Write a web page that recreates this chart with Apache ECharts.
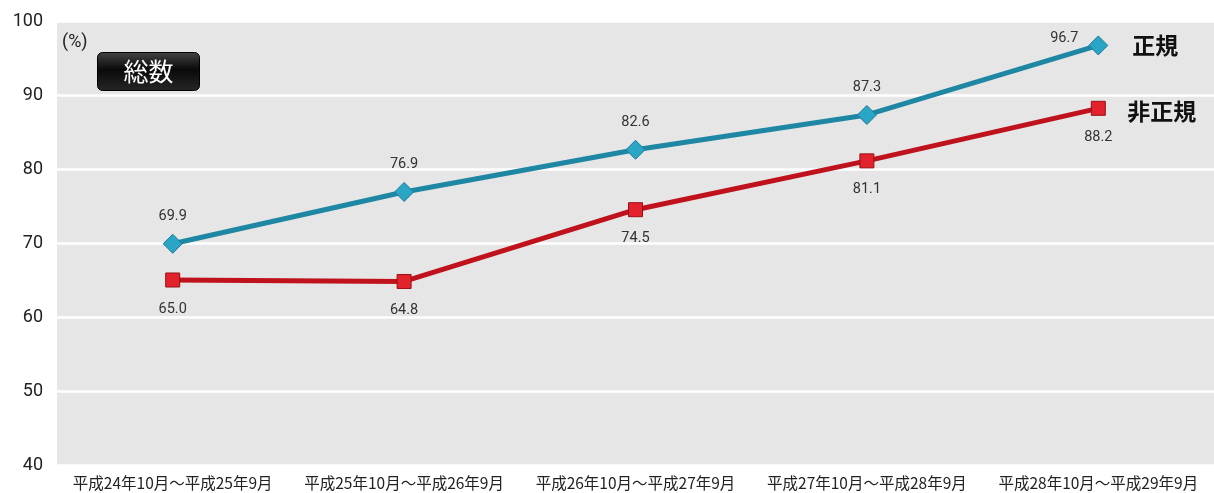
<!DOCTYPE html>
<html><head><meta charset="utf-8">
<script src="https://cdn.jsdelivr.net/npm/echarts@6/dist/echarts.min.js"></script>
<style>html,body{margin:0;padding:0;background:#fff}#c{width:1214px;height:493px}</style>
</head><body><div id="c"></div>
<script>
const categories = ['平成24年10月～平成25年9月','平成25年10月～平成26年9月','平成26年10月～平成27年9月','平成27年10月～平成28年9月','平成28年10月～平成29年9月'];
const regular = [69.9, 76.9, 82.6, 87.3, 96.7];
const nonRegular = [65.0, 64.8, 74.5, 81.1, 88.2];
const seriesNames = ['正規', '非正規'];
const yTicks = {min: 40, max: 100, interval: 10};
const unitLabel = '(%)';
const badgeLabel = '総数';

const chart = echarts.init(document.getElementById('c'));
const jp = '"Noto Sans CJK JP", "Noto Sans", sans-serif';
const regData = regular.map((v, i) => i === regular.length - 1
  ? {value: v, label: {offset: [-34, 20]}} : v);
chart.setOption({
  animation: false,
  backgroundColor: '#fff',
  grid: {left: 57, right: 0, top: 21, bottom: 28, backgroundColor: '#e6e6e6', show: true, borderWidth: 0},
  xAxis: {
    type: 'category', data: categories, boundaryGap: true,
    axisLine: {show: false}, axisTick: {show: false}, splitLine: {show: false},
    axisLabel: {color: '#222', fontSize: 15.5, fontFamily: jp, margin: 10, interval: 0, hideOverlap: false}
  },
  yAxis: {
    type: 'value', min: yTicks.min, max: yTicks.max, interval: yTicks.interval,
    axisLine: {show: false}, axisTick: {show: false},
    splitLine: {show: true, lineStyle: {color: '#ffffff', width: 2.5}},
    axisLabel: {color: '#222', fontSize: 18, fontFamily: 'Roboto, sans-serif', margin: 14}
  },
  series: [
    {
      name: seriesNames[0], type: 'line', data: regData,
      symbol: 'diamond', symbolSize: 19,
      lineStyle: {color: '#1e87a3', width: 5},
      itemStyle: {color: '#2ba5c6', borderColor: '#1a7a95', borderWidth: 1},
      label: {show: true, position: 'top', distance: 10, color: '#333', fontSize: 14.5, fontFamily: 'Roboto, sans-serif', formatter: p => Number(p.value).toFixed(1)},
      endLabel: {show: true, formatter: seriesNames[0], color: '#111', fontSize: 23, fontWeight: 'bold', fontFamily: jp, distance: 34, offset: [0, 0]},
      z: 3
    },
    {
      name: seriesNames[1], type: 'line', data: nonRegular,
      symbol: 'rect', symbolSize: 14,
      lineStyle: {color: '#c0121d', width: 5},
      itemStyle: {color: '#e2222c', borderColor: '#9a0f16', borderWidth: 1},
      label: {show: true, position: 'bottom', distance: 14, color: '#333', fontSize: 14.5, fontFamily: 'Roboto, sans-serif', formatter: p => p.value.toFixed(1)},
      endLabel: {show: true, formatter: seriesNames[1], color: '#111', fontSize: 23, fontWeight: 'bold', fontFamily: jp, distance: 29, offset: [0, 3]},
      z: 2
    }
  ],
  graphic: [
    {type: 'text', left: 62, top: 33, style: {text: unitLabel, fill: '#222', fontSize: 18, fontFamily: 'Roboto, sans-serif'}},
    {type: 'group', left: 97, top: 52, children: [
      {type: 'rect', shape: {x: 0, y: 0, width: 102, height: 38, r: 5},
       style: {fill: new echarts.graphic.LinearGradient(0, 0, 0, 1, [{offset: 0, color: '#444'}, {offset: 0.45, color: '#0a0a0a'}, {offset: 1, color: '#262626'}]), stroke: '#000', lineWidth: 1}},
      {type: 'text', x: 51, y: 19, style: {text: badgeLabel, fill: '#fff', fontSize: 25, fontWeight: 'normal', fontFamily: jp, align: 'center', verticalAlign: 'middle'}}
    ]}
  ]
});
</script></body></html>
